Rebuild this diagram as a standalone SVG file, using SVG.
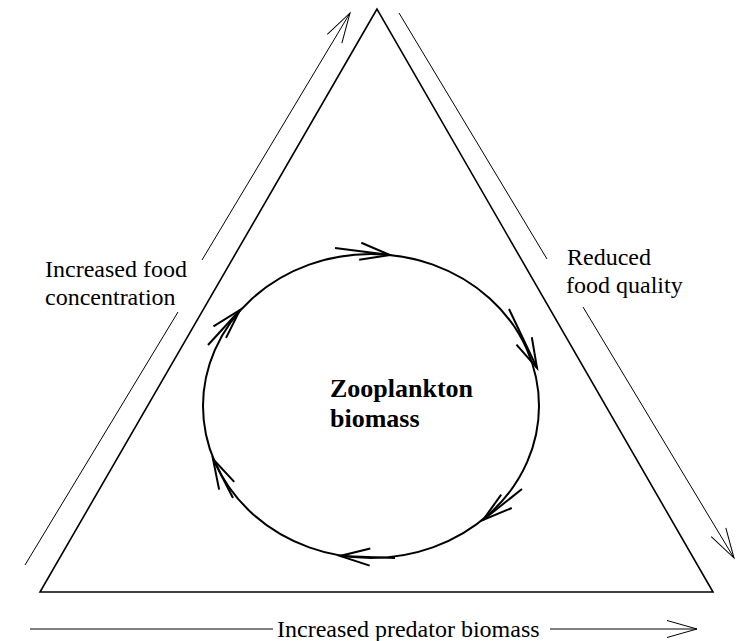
<svg xmlns="http://www.w3.org/2000/svg" width="740" height="641" viewBox="0 0 740 641">
<style>
  .thin { fill: none; stroke: #000; stroke-width: 1; }
  .tri { fill: none; stroke: #000; stroke-width: 1.6; stroke-linejoin: miter; }
  .cyc { fill: none; stroke: #000; stroke-width: 2; }
  .lbl { font-family: "Liberation Serif", "Times New Roman", serif; font-size: 24px; fill: #000; }
  .bold { font-weight: bold; font-size: 26px; }
</style>
<defs>
  <marker id="ahThin" markerUnits="userSpaceOnUse" markerWidth="40" markerHeight="24" refX="0" refY="0" orient="auto" overflow="visible">
    <path d="M-30,-8.5 L0,0 L-30,8.5" fill="none" stroke="#000" stroke-width="1"/>
  </marker>
  <marker id="ahThick" markerUnits="userSpaceOnUse" markerWidth="40" markerHeight="24" refX="0" refY="0" orient="auto" overflow="visible">
    <path d="M-30,-8.5 L0,0 L-30,8.5" fill="none" stroke="#000" stroke-width="2"/>
  </marker>
</defs>
<rect width="740" height="641" fill="#fff"/>

<g id="triangle">
  <polygon class="tri" points="377,9 40,592 713,592"/>
</g>

<g id="cycle">
  <ellipse class="cyc" cx="371" cy="406" rx="168" ry="152"/>
</g>

<g id="connectors">
  <!-- left: increased food concentration -->
  <line class="thin" x1="25" y1="565" x2="178" y2="312"/>
  <line class="thin" x1="202" y1="260" x2="350" y2="13" marker-end="url(#ahThin)"/>
  <!-- right: reduced food quality -->
  <line class="thin" x1="399" y1="13" x2="547" y2="259"/>
  <line class="thin" x1="583" y1="307" x2="734" y2="558" marker-end="url(#ahThin)"/>
  <!-- bottom: increased predator biomass -->
  <line class="thin" x1="30" y1="629" x2="273" y2="629"/>
  <line class="thin" x1="550" y1="629" x2="697" y2="629" marker-end="url(#ahThin)"/>
  <!-- cycle arrows -->
  <line class="cyc" x1="335" y1="248" x2="390" y2="255" marker-end="url(#ahThick)"/>
  <line class="cyc" x1="509" y1="309" x2="537" y2="368" marker-end="url(#ahThick)"/>
  <line class="cyc" x1="522" y1="489" x2="483" y2="520" marker-end="url(#ahThick)"/>
  <line class="cyc" x1="395" y1="558" x2="340" y2="556" marker-end="url(#ahThick)"/>
  <line class="cyc" x1="233" y1="498" x2="213" y2="459" marker-end="url(#ahThick)"/>
  <line class="cyc" x1="208" y1="345" x2="240" y2="310" marker-end="url(#ahThick)"/>
</g>

<g id="label-food-concentration">
  <text class="lbl" x="45" y="277">Increased food</text>
  <text class="lbl" x="45" y="305">concentration</text>
</g>
<g id="label-food-quality">
  <text class="lbl" x="567" y="265">Reduced</text>
  <text class="lbl" x="566" y="293">food quality</text>
</g>
<g id="label-zooplankton">
  <text class="lbl bold" x="330" y="397">Zooplankton</text>
  <text class="lbl bold" x="330" y="427">biomass</text>
</g>
<g id="label-predator">
  <text class="lbl" x="277" y="637">Increased predator biomass</text>
</g>
</svg>
